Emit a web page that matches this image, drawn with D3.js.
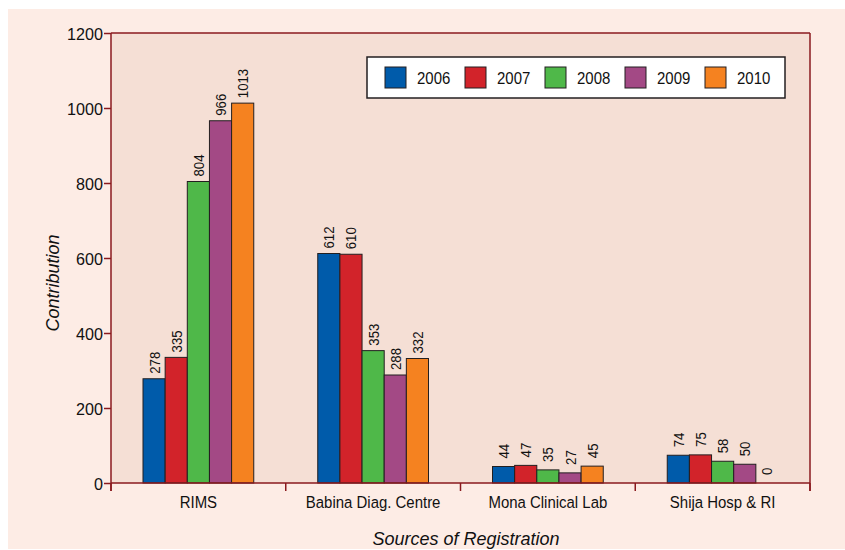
<!DOCTYPE html>
<html>
<head>
<meta charset="utf-8">
<script src="https://cdn.jsdelivr.net/npm/d3@7"></script>
<style>
  html, body { margin: 0; padding: 0; background: #ffffff; }
  svg { display: block; }
  text { font-family: "Liberation Sans", Arial, sans-serif; fill: #111; }
</style>
</head>
<body>
<svg id="chart" width="845" height="550"></svg>
<script>
// Contributions by source of registration, 2006–2010
const categories = ["RIMS", "Babina Diag. Centre", "Mona Clinical Lab", "Shija Hosp & RI"];
const years = ["2006", "2007", "2008", "2009", "2010"];
const values2006 = [278, 612, 44, 74];
const values2007 = [335, 610, 47, 75];
const values2008 = [804, 353, 35, 58];
const values2009 = [966, 288, 27, 50];
const values2010 = [1013, 332, 45, 0];
const yTicks = [0, 200, 400, 600, 800, 1000, 1200];
const colors = ["#005baa", "#d2232a", "#4fb849", "#a34985", "#f58220"];

const series = [values2006, values2007, values2008, values2009, values2010];

const svg = d3.select("#chart");
const plot = { left: 111, right: 810, top: 33, bottom: 483 };
const axisColor = "#8a1a1e";
const narrow = 0.88; // horizontal squeeze to get a condensed face

// page and plot backgrounds
svg.append("rect").attr("x", 8).attr("y", 9).attr("width", 837).attr("height", 540).attr("fill", "#fdece5");
svg.append("rect").attr("x", plot.left).attr("y", plot.top)
  .attr("width", plot.right - plot.left).attr("height", plot.bottom - plot.top)
  .attr("fill", "#f5dfd5");

const x0 = d3.scaleBand().domain(categories).range([plot.left, plot.right]).paddingInner(0).paddingOuter(0);
const x1 = d3.scaleBand().domain(years).range([32, x0.bandwidth() - 32]).padding(0);
const y = d3.scaleLinear().domain([0, 1200]).range([plot.bottom, plot.top]);

// bars with rotated value labels
const groups = svg.append("g").selectAll("g").data(categories).join("g")
  .attr("transform", d => `translate(${x0(d)},0)`);

groups.each(function(cat, ci) {
  const g = d3.select(this);
  years.forEach((yr, si) => {
    const v = series[si][ci];
    const bx = x1(yr);
    const bw = x1.bandwidth();
    if (v > 0) {
      g.append("rect")
        .attr("x", bx).attr("y", y(v))
        .attr("width", bw).attr("height", y(0) - y(v))
        .attr("fill", colors[si])
        .attr("stroke", "#231f20").attr("stroke-width", 1);
    }
    g.append("text")
      .attr("transform", `translate(${bx + bw / 2 + 5.5},${y(v) - (v < 100 ? 8 : 5)}) rotate(-90) scale(${narrow},1)`)
      .attr("text-anchor", "start")
      .attr("font-size", 15)
      .text(v);
  });
});

// frame: top and right edges
svg.append("line").attr("x1", plot.left).attr("x2", plot.right).attr("y1", plot.top).attr("y2", plot.top)
  .attr("stroke", axisColor).attr("stroke-width", 1.5);
svg.append("line").attr("x1", plot.right).attr("x2", plot.right).attr("y1", plot.top).attr("y2", plot.bottom + 8)
  .attr("stroke", axisColor).attr("stroke-width", 1.5);

// y axis
const yAxis = svg.append("g").attr("transform", `translate(${plot.left},0)`)
  .call(d3.axisLeft(y).tickValues(yTicks).tickSize(7).tickPadding(2).tickFormat(d3.format("d")));
yAxis.select(".domain").remove();
yAxis.selectAll(".tick line").attr("stroke", axisColor).attr("stroke-width", 1.5);
yAxis.selectAll(".tick text")
  .attr("x", null).attr("dy", null)
  .attr("text-anchor", "end")
  .attr("transform", `translate(-8,6) scale(0.95,1)`)
  .attr("font-size", 17).attr("fill", "#111");
svg.append("line").attr("x1", plot.left).attr("x2", plot.left).attr("y1", plot.top).attr("y2", plot.bottom + 8)
  .attr("stroke", axisColor).attr("stroke-width", 1.5);

// x axis baseline, band boundary ticks and category labels
svg.append("line").attr("x1", plot.left).attr("x2", plot.right).attr("y1", plot.bottom).attr("y2", plot.bottom)
  .attr("stroke", axisColor).attr("stroke-width", 1.5);
const boundaries = categories.map(c => x0(c)).concat([plot.right]);
svg.append("g").selectAll("line").data(boundaries).join("line")
  .attr("x1", d => d).attr("x2", d => d).attr("y1", plot.bottom).attr("y2", plot.bottom + 8)
  .attr("stroke", axisColor).attr("stroke-width", 1.5);
svg.append("g").selectAll("text").data(categories).join("text")
  .attr("transform", d => `translate(${x0(d) + x0.bandwidth() / 2},${plot.bottom + 25}) scale(${narrow},1)`)
  .attr("text-anchor", "middle")
  .attr("font-size", 17)
  .text(d => d);

// axis titles
svg.append("text")
  .attr("x", 466).attr("y", 545)
  .attr("text-anchor", "middle").attr("font-size", 18).attr("font-style", "italic")
  .text("Sources of Registration");
svg.append("text")
  .attr("transform", `translate(59,283) rotate(-90)`)
  .attr("text-anchor", "middle").attr("font-size", 18).attr("font-style", "italic")
  .text("Contribution");

// legend
const legend = svg.append("g").attr("transform", "translate(367,57)");
legend.append("rect").attr("width", 418).attr("height", 41)
  .attr("fill", "#ffffff").attr("stroke", "#231f20").attr("stroke-width", 1.5);
years.forEach((yr, i) => {
  const item = legend.append("g").attr("transform", `translate(${18 + i * 80},10)`);
  item.append("rect").attr("width", 21).attr("height", 21)
    .attr("fill", colors[i]).attr("stroke", "#231f20").attr("stroke-width", 1);
  item.append("text").attr("transform", `translate(32,17) scale(${narrow},1)`)
    .attr("font-size", 17).text(yr);
});
</script>
</body>
</html>
